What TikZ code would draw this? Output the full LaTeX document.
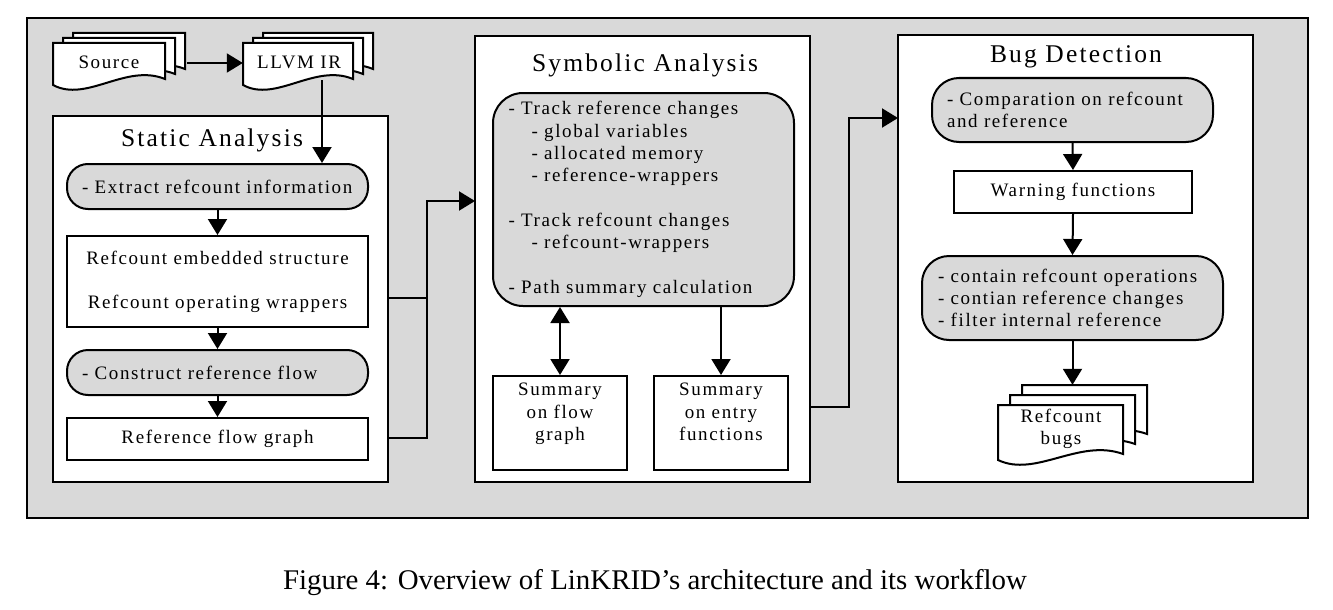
\documentclass[tikz,border=0pt]{standalone}
\usepackage{fontspec}
\usepackage{graphicx}
\setmainfont{Liberation Serif}[LetterSpace=8.5]
\newfontfamily\capfont{Liberation Serif}
\usetikzlibrary{arrows.meta,calc}
\definecolor{bggray}{RGB}{217,217,217}
\definecolor{boxgray}{RGB}{217,217,217}
\newcommand\docpg[4]{% x0, y0, w, h
  \draw[docpage] (#1,#2) -- (#1+#3,#2) -- (#1+#3,#2+#4-6)
    .. controls (#1+0.65*#3,#2+#4-22) and (#1+0.3*#3,#2+#4+18) .. (#1,#2+#4) -- cycle;}
\begin{document}
\begin{tikzpicture}[x=1pt,y=-1pt,
  every node/.style={font=\fontsize{19}{22.3}\selectfont},
  ln/.style={line width=2pt},
  arr/.style={ln,-{Triangle[length=16pt,width=19pt]}},
  darr/.style={ln,{Triangle[length=16pt,width=19pt]}-{Triangle[length=16pt,width=19pt]}},
  rbox/.style={draw,line width=2pt,fill=boxgray,inner sep=0pt},
  sbox/.style={draw,line width=2pt,fill=white,inner sep=0pt},
  panel/.style={draw,line width=2pt,fill=white,inner sep=0pt},
  ghost/.style={inner sep=0pt},
  ttl/.style={font=\fontsize{25.5}{30}\selectfont},
  docpage/.style={draw,line width=2pt,fill=white}]
\useasboundingbox (0,0) rectangle (1333,610);

% background
\node[draw,fill=bggray,line width=2pt,inner sep=0pt,minimum width=1281,minimum height=500] (bg) at (667.5,268) {};

% panels
\node[panel,minimum width=335,minimum height=366] (static) at (220.5,299) {};
\node[panel,minimum width=335,minimum height=446] (symbolic) at (642.5,259) {};
\node[panel,minimum width=355,minimum height=447] (bug) at (1075.5,258.5) {};
\node[ttl] (ttlstatic) at (212,140) {Static Analysis};
\node[ttl] (ttlsym) at (645,65) {Symbolic Analysis};
\node[ttl] (ttlbug) at (1076,57) {Bug Detection};

% static analysis
\node[rbox,rounded corners=21pt,minimum width=301,minimum height=45,text width=271pt,align=left] (extract) at (217.5,186.5) {- Extract refcount information};
\node[sbox,minimum width=301,minimum height=91,align=center] (refrect) at (217.5,281.5) {Refcount embedded structure\\[21.7pt]Refcount operating wrappers};
\node[rbox,rounded corners=21pt,minimum width=301,minimum height=45,text width=271pt,align=left] (construct) at (217.5,372.5) {- Construct reference flow};
\node[sbox,minimum width=301,minimum height=42] (rfg) at (217.5,439) {Reference flow graph};

% symbolic analysis
\node[rbox,rounded corners=30pt,minimum width=301,minimum height=213,text width=270pt,align=left] (symbox) at (643.5,199.5) {- Track reference changes\\
\hspace*{23pt}- global variables\\
\hspace*{23pt}- allocated memory\\
\hspace*{23pt}- reference-wrappers\\
\mbox{}\\
- Track refcount changes\\
\hspace*{23pt}- refcount-wrappers\\
\mbox{}\\
- Path summary calculation};
\node[sbox,minimum width=134,minimum height=94,align=center] (flow) at (560,423) {Summary\\on flow\\graph\\\mbox{}};
\node[sbox,minimum width=134,minimum height=94,align=center] (entry) at (721,423) {Summary\\on entry\\functions\\\mbox{}};

% bug detection
\node[rbox,rounded corners=27pt,minimum width=281,minimum height=64,text width=251pt,align=left] (comp) at (1072.5,110) {- Comparation on refcount\\and reference};
\node[sbox,minimum width=238,minimum height=42] (warn) at (1073,192) {Warning functions};
\node[rbox,rounded corners=27pt,minimum width=301,minimum height=84,text width=269pt,align=left] (contain) at (1072.5,298) {- contain refcount operations\\- contian reference changes\\- filter internal reference};

% helper nodes / coordinates
\node[ghost,minimum width=134,minimum height=60] (src) at (120,63) {};
\node[ghost,minimum width=130,minimum height=60] (llvm) at (308,63) {};
\node[ghost,minimum width=149,minimum height=82] (bugs) at (1072.5,426) {};
\coordinate (llvmout) at (322,80);
\coordinate (sa1) at (388,298);
\coordinate (sa2) at (388,438);
\coordinate (jn) at (427,438);
\coordinate (symin) at (475,201);
\coordinate (symout) at (810,407);
\coordinate (jn2) at (849,407);
\coordinate (bugin) at (898,118);

% connectors
\draw[arr] (llvmout) -- (llvmout |- extract.north);
\draw[arr] (src.east) -- (llvm.west);
\draw[arr] (extract.south) -- (refrect.north);
\draw[arr] (refrect.south) -- (construct.north);
\draw[arr] (construct.south) -- (rfg.north);
\draw[ln] (sa1) -- (jn |- sa1);
\draw[arr] (sa2) -- (jn) |- (symin);
\draw[darr] (flow.north |- symbox.south) -- (flow.north);
\draw[arr] (entry.north |- symbox.south) -- (entry.north);
\draw[arr] (symout) -- (jn2) |- (bugin);
\draw[arr] (comp.south) -- (warn.north);
\draw[arr] (warn.south) -- (contain.north);
\draw[arr] (contain.south) -- (bugs.north);

% documents
\docpg{73}{33}{112}{42}
\docpg{63}{38}{112}{42}
\docpg{53}{43}{112}{42}
\node (srctxt) at (109,62) {Source};
\docpg{263}{33}{110}{42}
\docpg{253}{38}{110}{42}
\docpg{243}{43}{110}{42}
\node (llvmtxt) at (299,62) {LLVM IR};
\docpg{1022}{385}{125}{55}
\docpg{1010}{395}{125}{55}
\docpg{998}{405}{125}{55}
\node[align=center] (bugstxt) at (1061,429) {Refcount\\bugs};

% caption
\node (cap) at (655,583) {\resizebox{744pt}{\height}{\capfont\fontsize{28.5}{32}\selectfont Figure 4: Overview of LinKRID’s architecture and its workflow}};
\end{tikzpicture}
\end{document}
